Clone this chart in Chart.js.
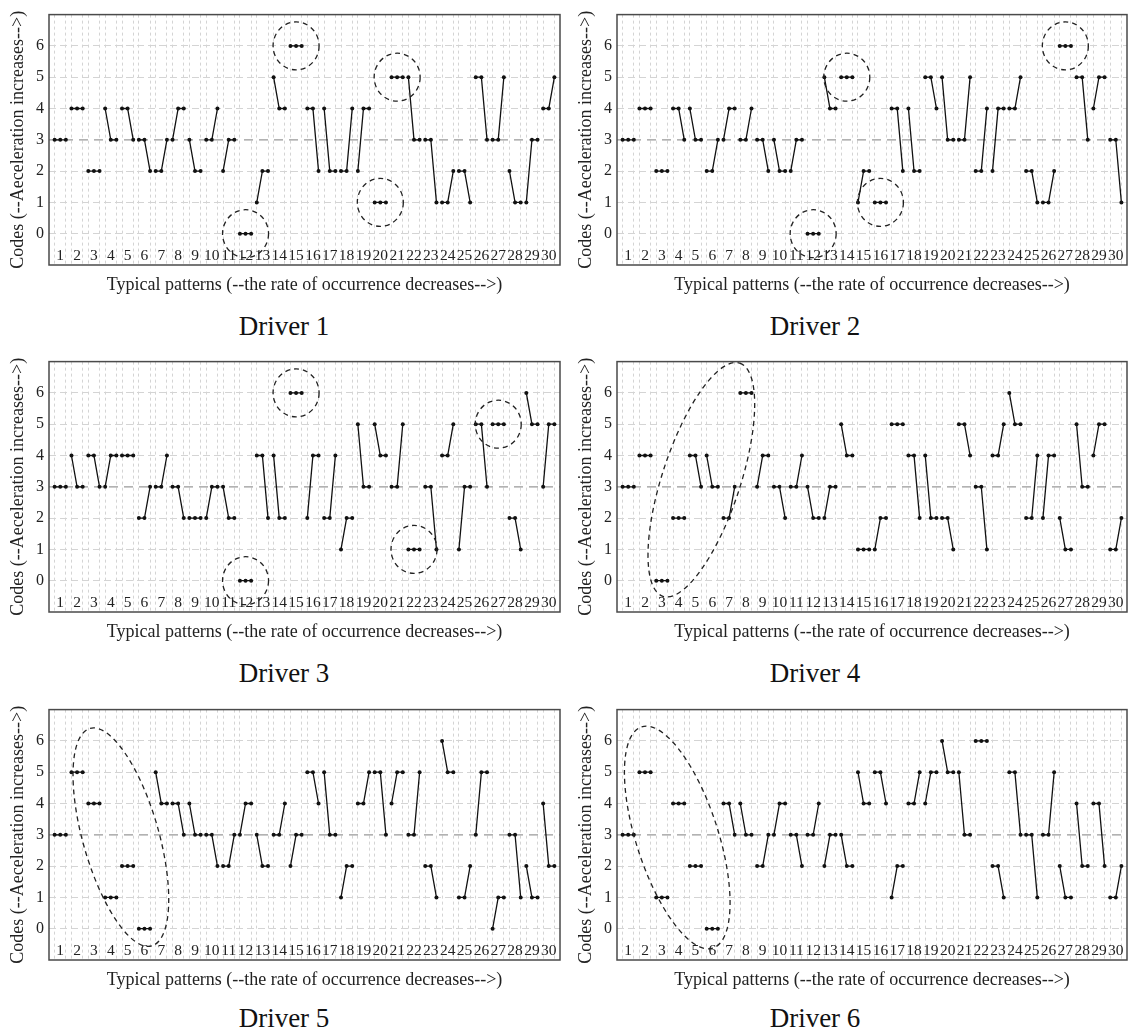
<!DOCTYPE html>
<html>
<head>
<meta charset="utf-8">
<script src="https://cdn.jsdelivr.net/npm/chart.js@4.4.1/dist/chart.umd.min.js"></script>
<style>
  body { margin: 0; background: #fff; width: 1131px; height: 1032px; overflow: hidden; position: relative; }
  canvas { position: absolute; }
  .cap { position: absolute; width: 200px; text-align: center; font: 27px/27px 'Liberation Serif', 'Times New Roman', serif; color: #111; }
</style>
</head>
<body>
<canvas id="d1" width="566" height="297" style="left:0;top:0"></canvas>
<canvas id="d2" width="563" height="297" style="left:568px;top:0"></canvas>
<canvas id="d3" width="566" height="297" style="left:0;top:347px"></canvas>
<canvas id="d4" width="563" height="297" style="left:568px;top:347px"></canvas>
<canvas id="d5" width="566" height="297" style="left:0;top:695px"></canvas>
<canvas id="d6" width="563" height="297" style="left:568px;top:695px"></canvas>
<div class="cap" style="left:184px;top:313px">Driver 1</div>
<div class="cap" style="left:715px;top:313px">Driver 2</div>
<div class="cap" style="left:184px;top:660px">Driver 3</div>
<div class="cap" style="left:715px;top:660px">Driver 4</div>
<div class="cap" style="left:184px;top:1005px">Driver 5</div>
<div class="cap" style="left:715px;top:1005px">Driver 6</div>
<script>
// ===== Data: 30 typical patterns per driver, 3 codes each =====
const patternLabels = ['1','2','3','4','5','6','7','8','9','10','11','12','13','14','15',
  '16','17','18','19','20','21','22','23','24','25','26','27','28','29','30'];
const codeLabels = ['0','1','2','3','4','5','6'];
const baseLevel = 3;

const driver1 = [[3,3,3],[4,4,4],[2,2,2],[4,3,3],[4,4,3],[3,3,2],[2,2,3],[3,4,4],[3,2,2],[3,3,4],
  [2,3,3],[0,0,0],[1,2,2],[5,4,4],[6,6,6],[4,4,2],[4,2,2],[2,2,4],[2,4,4],[1,1,1],
  [5,5,5],[5,3,3],[3,3,1],[1,1,2],[2,2,1],[5,5,3],[3,3,5],[2,1,1],[1,3,3],[4,4,5]];
const driver2 = [[3,3,3],[4,4,4],[2,2,2],[4,4,3],[4,3,3],[2,2,3],[3,4,4],[3,3,4],[3,3,2],[3,2,2],
  [2,3,3],[0,0,0],[5,4,4],[5,5,5],[1,2,2],[1,1,1],[4,4,2],[4,2,2],[5,5,4],[5,3,3],
  [3,3,5],[2,2,4],[2,4,4],[4,4,5],[2,2,1],[1,1,2],[6,6,6],[5,5,3],[4,5,5],[3,3,1]];
const driver3 = [[3,3,3],[4,3,3],[4,4,3],[3,4,4],[4,4,4],[2,2,3],[3,3,4],[3,3,2],[2,2,2],[2,3,3],
  [3,2,2],[0,0,0],[4,4,2],[4,2,2],[6,6,6],[2,4,4],[2,2,4],[1,2,2],[5,3,3],[5,4,4],
  [3,3,5],[1,1,1],[3,3,1],[4,4,5],[1,3,3],[5,5,3],[5,5,5],[2,2,1],[6,5,5],[3,5,5]];
const driver4 = [[3,3,3],[4,4,4],[0,0,0],[2,2,2],[4,4,3],[4,3,3],[2,2,3],[6,6,6],[3,4,4],[3,3,2],
  [3,3,4],[3,2,2],[2,3,3],[5,4,4],[1,1,1],[1,2,2],[5,5,5],[4,4,2],[4,2,2],[2,2,1],
  [5,5,4],[3,3,1],[4,4,5],[6,5,5],[2,2,4],[2,4,4],[2,1,1],[5,3,3],[4,5,5],[1,1,2]];
const driver5 = [[3,3,3],[5,5,5],[4,4,4],[1,1,1],[2,2,2],[0,0,0],[5,4,4],[4,4,3],[4,3,3],[3,3,2],
  [2,2,3],[3,4,4],[3,2,2],[3,3,4],[2,3,3],[5,5,4],[5,3,3],[1,2,2],[4,4,5],[5,5,3],
  [4,5,5],[3,3,5],[2,2,1],[6,5,5],[1,1,2],[3,5,5],[0,1,1],[3,3,1],[2,1,1],[4,2,2]];
const driver6 = [[3,3,3],[5,5,5],[1,1,1],[4,4,4],[2,2,2],[0,0,0],[4,4,3],[4,3,3],[2,2,3],[3,4,4],
  [3,3,2],[3,3,4],[2,3,3],[3,2,2],[5,4,4],[5,5,4],[1,2,2],[4,4,5],[4,5,5],[6,5,5],
  [5,3,3],[6,6,6],[2,2,1],[5,5,3],[3,3,1],[3,3,5],[2,1,1],[4,2,2],[4,4,2],[1,1,2]];

// highlighted patterns: [pattern, code]
const circles1 = [[15,6],[12,0],[21,5],[20,1]];
const circles2 = [[12,0],[14,5],[16,1],[27,6]];
const circles3 = [[15,6],[12,0],[22,1],[27,5]];
// long ellipses: ends of the main axis, in [point index, code]
const ellipse4 = [[8.2,-0.5],[21.9,6.95]];
const ellipse5 = [[7.3,6.4],[18.3,-0.55]];
const ellipse6 = [[4.4,6.45],[17.1,-0.62]];

Chart.defaults.font.family = "'Liberation Serif', 'Times New Roman', serif";
Chart.defaults.color = '#222';

// ===== Helpers =====
function toPoints(codes) {
  const pts = [];
  codes.forEach((trio, i) => {
    trio.forEach((c, j) => pts.push({ x: 3 * i + j + 1, y: c }));
    pts.push({ x: 3 * i + 3.5, y: null });
  });
  return pts;
}

const marksPlugin = {
  id: 'marks',
  afterDatasetsDraw(chart, args, opts) {
    const { ctx, chartArea: a, scales: { x, y } } = chart;
    ctx.save();
    ctx.strokeStyle = '#222';
    ctx.lineWidth = 1.3;
    ctx.setLineDash([5, 4]);
    (opts.circles || []).forEach(([p, code]) => {
      ctx.beginPath();
      ctx.ellipse(x.getPixelForValue(3 * p - 1), y.getPixelForValue(code), 23, 24, 0, 0, Math.PI * 2);
      ctx.stroke();
    });
    if (opts.ellipse) {
      const [[x1, y1], [x2, y2]] = opts.ellipse;
      const px1 = x.getPixelForValue(x1), py1 = y.getPixelForValue(y1);
      const px2 = x.getPixelForValue(x2), py2 = y.getPixelForValue(y2);
      const len = Math.hypot(px2 - px1, py2 - py1) / 2;
      const ang = Math.atan2(py2 - py1, px2 - px1);
      ctx.beginPath();
      ctx.ellipse((px1 + px2) / 2, (py1 + py2) / 2, len, opts.half || 38, ang, 0, Math.PI * 2);
      ctx.stroke();
    }
    // frame
    ctx.setLineDash([]);
    ctx.strokeStyle = '#4a4a4a';
    ctx.lineWidth = 1.5;
    ctx.strokeRect(a.left, a.top, a.width, a.height);
    ctx.restore();
  }
};

function makeChart(id, codes, marks, left) {
  return new Chart(document.getElementById(id), {
    type: 'line',
    data: {
      datasets: [{
        data: toPoints(codes),
        borderColor: '#111',
        backgroundColor: '#111',
        borderWidth: 1.3,
        pointRadius: 2,
        pointBorderWidth: 0,
        spanGaps: false
      }, {
        data: [{ x: 0, y: baseLevel }, { x: 91, y: baseLevel }],
        borderColor: '#999',
        borderWidth: 1.2,
        borderDash: [9, 6],
        pointRadius: 0
      }]
    },
    options: {
      responsive: false,
      animation: false,
      layout: { padding: { left: 4, right: left ? 6 : 3, top: 10, bottom: 0 } },
      scales: {
        x: {
          type: 'linear', min: 0, max: 91,
          afterFit: s => { s.height = 32; },
          grid: {
            drawTicks: false,
            color: c => (c.tick && c.tick.value % 3 !== 2 && c.tick.value > 0 && c.tick.value < 91) ? '#d4d4d4' : 'rgba(0,0,0,0)'
          },
          border: { display: false, dash: [3, 3] },
          ticks: {
            stepSize: 1, autoSkip: false, maxRotation: 0, mirror: true, padding: 0,
            font: { size: 15.5 },
            callback: v => (v % 3 === 2 ? patternLabels[(v - 2) / 3] : '')
          },
          title: {
            display: true,
            text: 'Typical patterns (--the rate of occurrence decreases-->)',
            font: { size: 18 },
            padding: { top: 0, bottom: 1 }
          }
        },
        y: {
          min: -1, max: 7,
          afterFit: s => { s.width = 45; },
          grid: {
            drawTicks: false,
            color: c => (c.tick && c.tick.value >= 0 && c.tick.value <= 6 && c.tick.value !== baseLevel) ? '#d4d4d4' : 'rgba(0,0,0,0)'
          },
          border: { display: false, dash: [7, 4] },
          ticks: {
            stepSize: 1, padding: 5,
            font: { size: 16 },
            callback: v => codeLabels[v] ?? ''
          },
          title: {
            display: true,
            text: 'Codes (--Aeceleration increases-->)',
            font: { size: 18 },
            padding: { top: 3, bottom: 0 }
          }
        }
      },
      plugins: {
        legend: { display: false },
        tooltip: { enabled: false },
        marks: marks
      }
    },
    plugins: [marksPlugin]
  });
}

makeChart('d1', driver1, { circles: circles1 }, true);
makeChart('d2', driver2, { circles: circles2 }, false);
makeChart('d3', driver3, { circles: circles3 }, true);
makeChart('d4', driver4, { ellipse: ellipse4, half: 39 }, false);
makeChart('d5', driver5, { ellipse: ellipse5, half: 38 }, true);
makeChart('d6', driver6, { ellipse: ellipse6, half: 41 }, false);
</script>
</body>
</html>
